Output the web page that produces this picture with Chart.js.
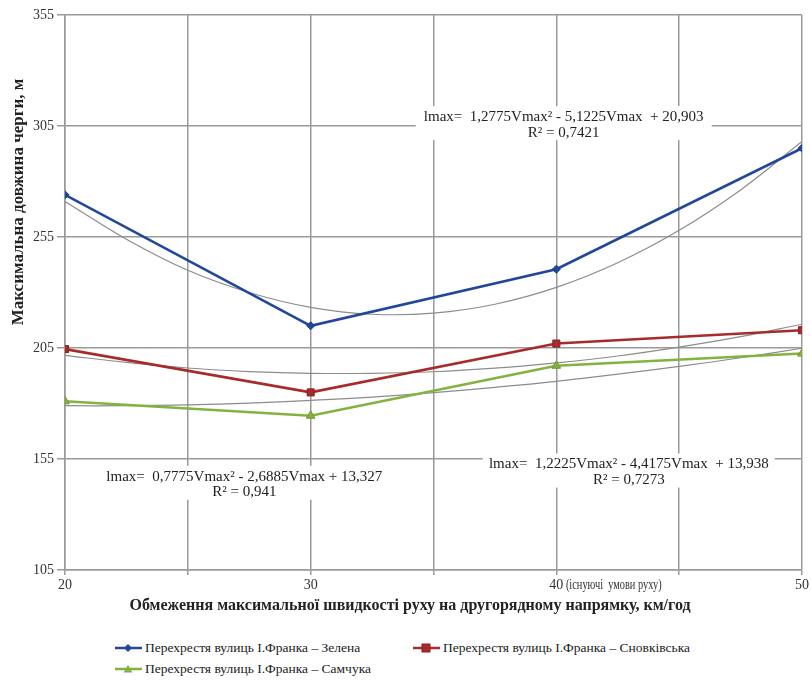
<!DOCTYPE html>
<html>
<head>
<meta charset="utf-8">
<script src="https://cdn.jsdelivr.net/npm/chart.js@4/dist/chart.umd.min.js"></script>
<style>
  html, body { margin: 0; padding: 0; background: #fff; }
  #wrap { position: relative; width: 811px; height: 681px; }
  #box { position: absolute; left: 0; top: 0; width: 811px; height: 620px; }
  #legend { position: absolute; left: 0; top: 638px; width: 811px; font-family: "Liberation Serif", serif; font-size: 13.5px; color: #222; }
  .li { position: absolute; display: flex; align-items: center; white-space: nowrap; }
  .li svg { margin-right: 3px; }
</style>
</head>
<body>
<div id="wrap">
  <div id="box"><canvas id="c" width="811" height="620"></canvas></div>
  <div id="legend"></div>
</div>
<script>
// ---- data ----
const xValues = [20, 30, 40, 50];
const seriesNames = [
  "Перехрестя вулиць І.Франка – Зелена",
  "Перехрестя вулиць І.Франка – Сновківська",
  "Перехрестя вулиць І.Франка – Самчука"
];
const zelena = [274, 215, 240.5, 295];
const snovska = [204.5, 185, 207, 213];
const samchuka = [181, 174.5, 197, 202.5];

// trend lines (poly, order 2)
const trendX = [20, 22.5, 25, 27.5, 30, 32.5, 35, 37.5, 40, 42.5, 45, 47.5, 50];
const trendZelena = [271, 254, 240, 230, 223.3, 220.2, 220.7, 224.7, 232.3, 243.4, 258, 276.2, 298];
const trendSnovska = [201.7, 198.5, 196, 194.4, 193.6, 193.6, 194.3, 195.9, 198.3, 201.4, 205.4, 210.1, 215.7];
const trendSamchuka = [179, 179, 179.4, 180.2, 181.4, 182.9, 184.9, 187.3, 190, 193.2, 196.7, 200.6, 204.9];

const yTicks = [105, 155, 205, 255, 305, 355];
const xTickLabels = {20: "20", 30: "30", 40: "40", 50: "50"};
const x40Suffix = " (існуючі  умови руху)";
const xTitle = "Обмеження максимальної швидкості руху на другорядному напрямку, км/год";
const yTitle = "Максимальна довжина черги, м";

const equations = [
  {lines: ["lmax=  1,2775Vmax² - 5,1225Vmax  + 20,903", "R² = 0,7421"], x: 40.3, y: 309, w: 296},
  {lines: ["lmax=  0,7775Vmax² - 2,6885Vmax + 13,327", "R² = 0,941"], x: 27.3, y: 147, w: 294},
  {lines: ["lmax=  1,2225Vmax² - 4,4175Vmax  + 13,938", "R² = 0,7273"], x: 42.95, y: 152.5, w: 292}
];

const colors = ["#21479a", "#a82b2b", "#83b23f"];
const markerBorders = ["#1b3c86", "#8a1f1f", "#6e9a30"];
const pointStyles = ["rectRot", "rect", "triangle"];
const radii = [4, 5, 5];

const toXY = (xs, ys) => xs.map((x, i) => ({x: x, y: ys[i]}));

const dataSets = [zelena, snovska, samchuka].map((arr, i) => ({
  label: seriesNames[i],
  data: toXY(xValues, arr),
  borderColor: colors[i],
  backgroundColor: colors[i],
  pointBackgroundColor: colors[i],
  pointBorderColor: markerBorders[i],
  pointBorderWidth: 1,
  pointStyle: pointStyles[i],
  pointRadius: radii[i],
  borderWidth: 2.6,
  tension: 0,
  order: 0
}));
const trendSets = [trendZelena, trendSnovska, trendSamchuka].map((arr, i) => ({
  label: "trend" + i,
  data: toXY(trendX, arr),
  borderColor: "#8c8c8c",
  borderWidth: 1.2,
  pointRadius: 0,
  tension: 0.4,
  order: 1
}));

const SERIF = "'Liberation Serif', 'Times New Roman', serif";

const eqPlugin = {
  id: 'eq',
  beforeDatasetsDraw(chart) {
    const ctx = chart.ctx, xs = chart.scales.x, ys = chart.scales.y;
    ctx.save();
    ctx.font = "15px " + SERIF;
    equations.forEach(eq => {
      const cx = xs.getPixelForValue(eq.x);
      const cy = ys.getPixelForValue(eq.y);
      ctx.fillStyle = "#fff";
      ctx.fillRect(cx - eq.w / 2, cy - 11, eq.w, 34);
      ctx.fillStyle = "#222";
      ctx.textAlign = "center";
      ctx.textBaseline = "middle";
      eq.lines.forEach((t, k) => ctx.fillText(t, cx, cy + k * 15.5));
    });
    ctx.restore();
  },
  afterDraw(chart) {
    const ctx = chart.ctx, xs = chart.scales.x;
    ctx.save();
    ctx.font = "14px " + SERIF;
    const w40 = ctx.measureText("40").width;
    const px = xs.getPixelForValue(40) + w40 / 2;
    ctx.translate(px, xs.top + 15);
    ctx.scale(0.74, 1);
    ctx.font = "14px " + SERIF;
    ctx.fillStyle = "#333";
    ctx.textAlign = "left";
    ctx.textBaseline = "middle";
    ctx.fillText(x40Suffix, 0, 0);
    ctx.restore();
    // x-axis title
    ctx.save();
    ctx.font = "bold 16px " + SERIF;
    ctx.fillStyle = "#222";
    ctx.textAlign = "center";
    ctx.textBaseline = "middle";
    ctx.fillText(xTitle, 410, 606);
    ctx.restore();
    // y-axis title
    ctx.save();
    ctx.translate(19, 202);
    ctx.rotate(-Math.PI / 2);
    ctx.font = "bold 17px " + SERIF;
    ctx.fillStyle = "#222";
    ctx.textAlign = "center";
    ctx.textBaseline = "middle";
    ctx.fillText(yTitle, 0, 0);
    ctx.restore();
  }
};

new Chart(document.getElementById('c'), {
  type: 'line',
  data: { datasets: dataSets.concat(trendSets) },
  options: {
    responsive: false,
    animation: false,
    layout: { padding: { top: 15, right: 8, left: 0, bottom: 0 } },
    plugins: { legend: { display: false }, tooltip: { enabled: false } },
    scales: {
      x: {
        type: 'linear', min: 20, max: 50,
        afterFit: s => { s.height = 50; },
        afterBuildTicks: s => { s.ticks = [20, 25, 30, 35, 40, 45, 50].map(v => ({value: v})); },
        ticks: {
          autoSkip: false, maxRotation: 0, padding: 2,
          color: "#333",
          font: { family: SERIF, size: 14 },
          callback: v => xTickLabels[v] || ""
        },
        grid: { color: "#9a9a9a", lineWidth: 1.5, tickLength: 5 },
        border: { color: "#9a9a9a", width: 1.5 },
        title: { display: false }
      },
      y: {
        type: 'linear', min: 105, max: 355,
        afterFit: s => { s.width = 65; },
        afterBuildTicks: s => { s.ticks = yTicks.map(v => ({value: v})); },
        ticks: {
          color: "#333", padding: 3,
          font: { family: SERIF, size: 14 }
        },
        grid: { color: "#9a9a9a", lineWidth: 1.5, tickLength: 8 },
        border: { color: "#9a9a9a", width: 1.5 },
        title: { display: false }
      }
    }
  },
  plugins: [eqPlugin]
});

// HTML legend built from series names
const legendPos = [{l: 115, t: 2}, {l: 413, t: 2}, {l: 115, t: 23}];
const leg = document.getElementById('legend');
seriesNames.forEach((name, i) => {
  const d = document.createElement('div');
  d.className = 'li';
  d.style.left = legendPos[i].l + 'px';
  d.style.top = legendPos[i].t + 'px';
  let mk = '';
  if (i === 0) mk = '<polygon points="13,1 17,5 13,9 9,5" fill="' + colors[0] + '"/>';
  if (i === 1) mk = '<rect x="9" y="1" width="8" height="8" fill="' + colors[1] + '" stroke="' + markerBorders[1] + '"/>';
  if (i === 2) mk = '<polygon points="13,1 17.5,8.5 8.5,8.5" fill="' + colors[2] + '"/>';
  d.innerHTML = '<svg width="27" height="10"><line x1="0" y1="5" x2="27" y2="5" stroke="' + colors[i] + '" stroke-width="2.5"/>' + mk + '</svg><span>' + name + '</span>';
  leg.appendChild(d);
});
</script>
</body>
</html>
